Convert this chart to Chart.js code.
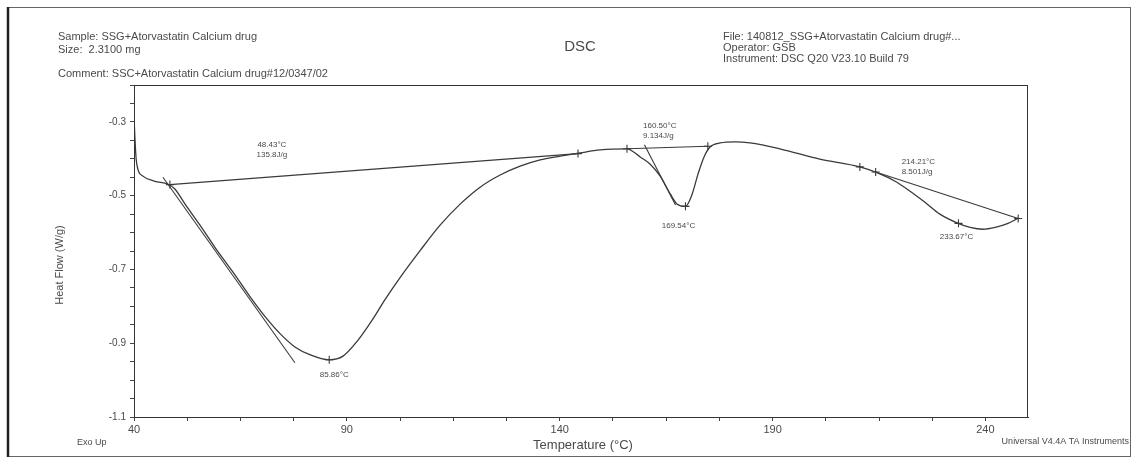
<!DOCTYPE html>
<html>
<head>
<meta charset="utf-8">
<script src="https://cdn.jsdelivr.net/npm/chart.js@4/dist/chart.umd.min.js"></script>
<style>
  html, body { margin: 0; padding: 0; background: #fff; }
  #wrap { width: 1136px; height: 459px; }
</style>
</head>
<body>
<div id="wrap"><canvas id="dsc" width="1136" height="459"></canvas></div>
<script>
// Heat flow trace: temperature (°C) and heat flow (W/g)
const temperature = [
  40.0, 40.2, 40.5, 40.9, 42.1, 44.9, 48.0, 49.6, 52.0, 55.5, 59.0, 63.3, 67.2, 70.8, 74.3,
  77.8, 81.3, 85.86, 89.1, 92.4, 95.9, 99.0, 102.5, 107.2, 111.9, 116.6, 121.3, 126.0, 130.7,
  135.4, 140.1, 144.8, 149.5, 155.8, 158.9, 161.2, 163.6, 166.0, 167.6, 169.54, 171.1, 172.5,
  173.9, 175.3, 177.7, 181.2, 184.7, 191.7, 201.1, 210.5, 214.8, 218.8, 222.3, 225.8, 229.3,
  233.6, 236.4, 239.4, 242.3, 245.3, 247.7
];
const heatFlow = [
  -0.285, -0.340, -0.400, -0.428, -0.447, -0.461, -0.469, -0.482, -0.523, -0.580, -0.640, -0.708, -0.773, -0.828, -0.874,
  -0.910, -0.931, -0.945, -0.935, -0.895, -0.838, -0.781, -0.722, -0.649, -0.580, -0.523, -0.477, -0.444, -0.420,
  -0.403, -0.393, -0.384, -0.376, -0.373, -0.395, -0.414, -0.447, -0.496, -0.523, -0.529, -0.496, -0.441,
  -0.395, -0.368, -0.357, -0.354, -0.357, -0.373, -0.401, -0.422, -0.439, -0.461, -0.488, -0.518, -0.550,
  -0.575, -0.586, -0.591, -0.586, -0.575, -0.561
];

// Integration baselines (start / end)
const baselineT = [[48.43, 144.3], [155.8, 174.8], [214.21, 247.7]];
const baselineV = [[-0.470, -0.386], [-0.373, -0.366], [-0.436, -0.562]];

// Onset tangents
const tangentT = [[46.8, 77.8], [159.9, 167.2]];
const tangentV = [[-0.450, -0.953], [-0.362, -0.525]];

// Analysis markers (limits, onsets, peaks)
const markerT = [48.43, 85.86, 144.3, 155.8, 169.54, 174.8, 210.5, 214.21, 233.67, 247.7];
const markerV = [-0.470, -0.945, -0.386, -0.373, -0.529, -0.366, -0.422, -0.436, -0.575, -0.562];

// Result labels
const onsetLabels = ['48.43°C', '160.50°C', '214.21°C'];
const enthalpyLabels = ['135.8J/g', '9.134J/g', '8.501J/g'];
const peakLabels = ['85.86°C', '169.54°C', '233.67°C'];

// Axis ticks: labelled majors plus unlabelled minors
const xMajor = [40, 90, 140, 190, 240];
const xMinor = [52.5, 65, 77.5, 102.5, 115, 127.5, 152.5, 165, 177.5, 202.5, 215, 227.5];
const yMajor = [-1.1, -0.9, -0.7, -0.5, -0.3];

const INK = '#3a3a3a';
const TEXT = '#4a4a4a';
const FONT = '"Liberation Sans", Arial, sans-serif';

const toPoints = (xs, ys) => xs.map((x, i) => ({ x, y: ys[i] }));

const datasets = [
  {
    data: toPoints(temperature, heatFlow),
    borderColor: INK,
    borderWidth: 1.3,
    pointRadius: 0,
    cubicInterpolationMode: 'monotone',
    showLine: true
  }
];
baselineT.forEach((t, i) => datasets.push({
  data: toPoints(t, baselineV[i]),
  borderColor: INK, borderWidth: 1.1, pointRadius: 0, showLine: true
}));
tangentT.forEach((t, i) => datasets.push({
  data: toPoints(t, tangentV[i]),
  borderColor: INK, borderWidth: 1.1, pointRadius: 0, showLine: true
}));
datasets.push({
  data: toPoints(markerT, markerV),
  showLine: false,
  pointStyle: 'cross',
  pointRadius: 4,
  borderColor: INK,
  borderWidth: 1.1
});

// Page frame, header block, plot box and result annotations
const pageText = {
  id: 'pageText',
  beforeDraw(chart) {
    const ctx = chart.ctx;
    ctx.save();
    ctx.fillStyle = '#fff';
    ctx.fillRect(0, 0, chart.width, chart.height);
    ctx.strokeStyle = '#666';
    ctx.lineWidth = 1;
    ctx.strokeRect(8.5, 7.5, 1122, 449);
    ctx.strokeStyle = '#222';
    ctx.lineWidth = 2.5;
    ctx.beginPath();
    ctx.moveTo(8, 7);
    ctx.lineTo(8, 457);
    ctx.stroke();
    ctx.restore();
  },
  afterDraw(chart) {
    const ctx = chart.ctx;
    const { left, top, right, bottom } = chart.chartArea;
    const xs = chart.scales.x, ys = chart.scales.y;
    ctx.save();

    ctx.strokeStyle = '#333';
    ctx.lineWidth = 1;
    ctx.strokeRect(left + 0.5, top + 0.5, right - left - 1, bottom - top);

    ctx.fillStyle = TEXT;
    ctx.textBaseline = 'middle';
    ctx.textAlign = 'left';
    ctx.font = '11px ' + FONT;
    ctx.fillText('Sample: SSG+Atorvastatin Calcium drug', 58, 37);
    ctx.fillText('Size:  2.3100 mg', 58, 50);
    ctx.fillText('Comment: SSC+Atorvastatin Calcium drug#12/0347/02', 58, 74);
    ctx.fillText('File: 140812_SSG+Atorvastatin Calcium drug#...', 723, 37);
    ctx.fillText('Operator: GSB', 723, 48);
    ctx.fillText('Instrument: DSC Q20 V23.10 Build 79', 723, 59);

    ctx.textAlign = 'center';
    ctx.font = '15px ' + FONT;
    ctx.fillText('DSC', 580, 47);

    ctx.font = '13px ' + FONT;
    ctx.fillText('Temperature (°C)', 583, 445);

    ctx.textAlign = 'left';
    ctx.font = '9px ' + FONT;
    ctx.fillText('Exo Up', 77, 443);
    ctx.textAlign = 'right';
    ctx.fillText('Universal V4.4A TA Instruments', 1129, 442);

    ctx.save();
    ctx.translate(60, 265);
    ctx.rotate(-Math.PI / 2);
    ctx.textAlign = 'center';
    ctx.font = '11px ' + FONT;
    ctx.fillText('Heat Flow (W/g)', 0, 0);
    ctx.restore();

    // Result annotations, placed off their markers
    ctx.font = '8px ' + FONT;
    ctx.textAlign = 'center';
    const at = (t, v) => [xs.getPixelForValue(t), ys.getPixelForValue(v)];
    let p = at(markerT[0], markerV[0]);
    ctx.fillText(onsetLabels[0], p[0] + 102, p[1] - 40);
    ctx.fillText(enthalpyLabels[0], p[0] + 102, p[1] - 30);
    p = at(markerT[1], markerV[1]);
    ctx.fillText(peakLabels[0], p[0] + 5, p[1] + 15);
    p = at(markerT[4], markerV[4]);
    ctx.fillText(peakLabels[1], p[0] - 7, p[1] + 19);
    p = at(markerT[3], markerV[3]);
    ctx.textAlign = 'left';
    ctx.fillText(onsetLabels[1], p[0] + 16, p[1] - 23);
    ctx.fillText(enthalpyLabels[1], p[0] + 16, p[1] - 13);
    p = at(markerT[7], markerV[7]);
    ctx.fillText(onsetLabels[2], p[0] + 26, p[1] - 10);
    ctx.fillText(enthalpyLabels[2], p[0] + 26, p[1]);
    p = at(markerT[8], markerV[8]);
    ctx.textAlign = 'center';
    ctx.fillText(peakLabels[2], p[0] - 2, p[1] + 13);

    ctx.restore();
  }
};

new Chart(document.getElementById('dsc'), {
  type: 'scatter',
  data: { datasets },
  plugins: [pageText],
  options: {
    responsive: false,
    animation: false,
    layout: { padding: { top: 85, right: 108, left: 0, bottom: 0 } },
    plugins: {
      legend: { display: false },
      tooltip: { enabled: false }
    },
    scales: {
      x: {
        type: 'linear',
        min: 40,
        max: 250,
        afterFit: (scale) => { scale.height = 42; },
        afterBuildTicks: (scale) => {
          scale.ticks = xMajor.concat(xMinor).sort((a, b) => a - b).map(value => ({ value }));
        },
        border: { display: true, color: '#333', width: 1 },
        grid: { drawOnChartArea: false, drawTicks: true, tickLength: 4, color: '#444' },
        ticks: {
          autoSkip: false,
          maxRotation: 0,
          padding: 2,
          color: TEXT,
          font: { family: FONT, size: 11 },
          callback: (v) => xMajor.includes(v) ? String(v) : ''
        }
      },
      y: {
        type: 'linear',
        min: -1.1,
        max: -0.2,
        afterFit: (scale) => { scale.width = 134; },
        border: { display: true, color: '#333', width: 1 },
        grid: { drawOnChartArea: false, drawTicks: true, tickLength: 4, color: '#444' },
        ticks: {
          stepSize: 0.05,
          autoSkip: false,
          padding: 4,
          color: TEXT,
          font: { family: FONT, size: 10 },
          callback: (v) => {
            const r = Math.round(v * 100) / 100;
            return yMajor.includes(r) ? r.toFixed(1) : '';
          }
        }
      }
    }
  }
});
</script>
</body>
</html>
